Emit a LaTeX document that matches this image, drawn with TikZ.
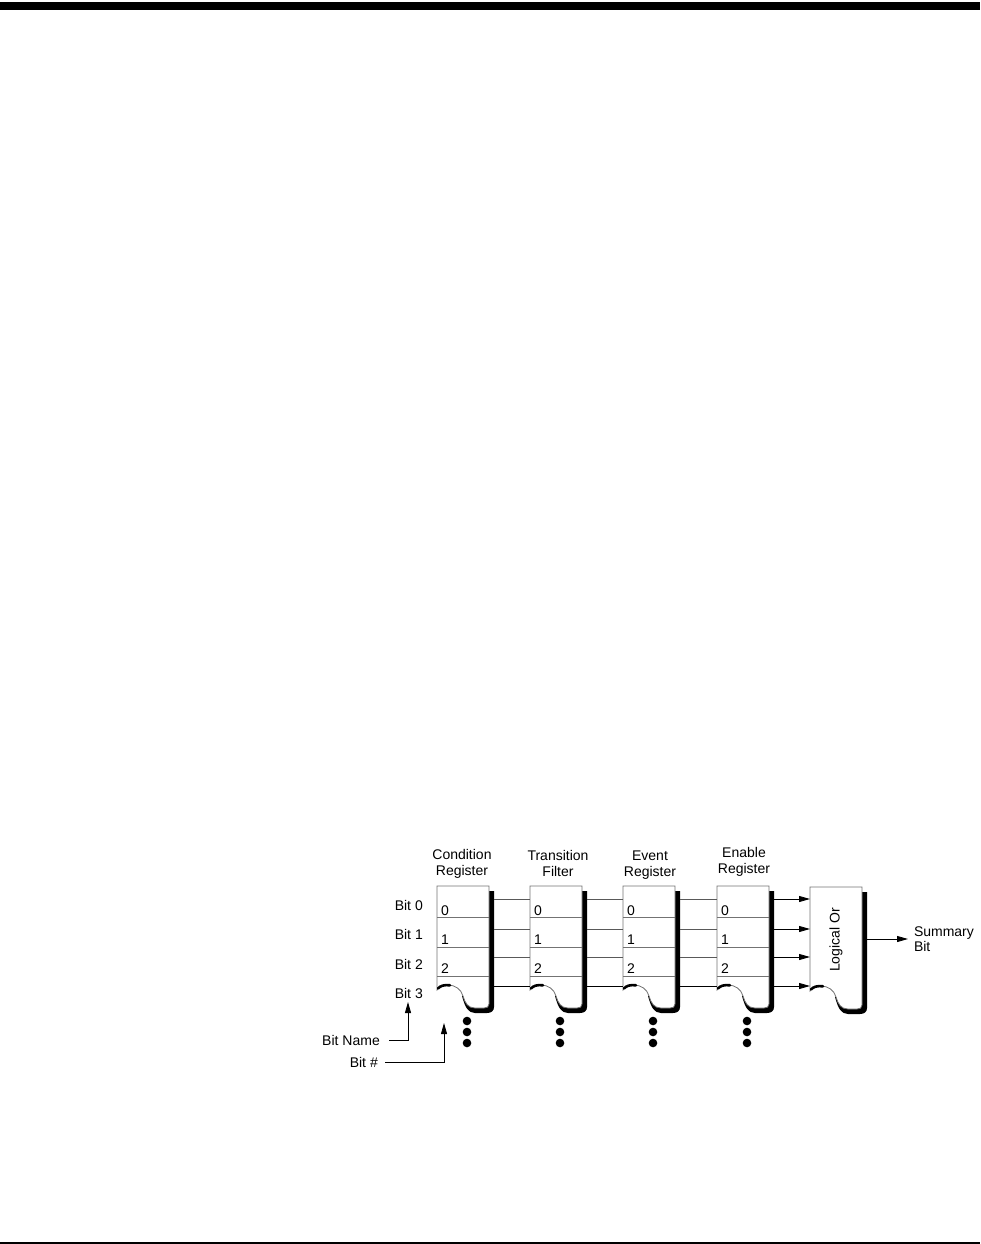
\documentclass[tikz,border=0pt]{standalone}
\usepackage{fontspec}
\setmainfont{Liberation Sans}
\usetikzlibrary{arrows.meta}
\newcommand\regbox[3]{%
  \begin{scope}[shift={(#1,#2)}]
    \fill (45,5) -- (57,5) -- (57,121) .. controls (57,125) and (54,127) .. (50,127) -- (38,127) .. controls (31,127) and (28,121) .. (25,110) -- (45,100) -- cycle;
    \path[outline] (0,0) -- (52,0) -- (52,118) .. controls (52,121) and (50,122) .. (47,122) -- (38,122) .. controls (31,122) and (28,117) .. (26,110) .. controls (24,103) and (18,99) .. (11,99) .. controls (6,99) and (2,101) .. (0,104) -- cycle;
    \draw[line width=2.6pt, line cap=round] (1,102.5) .. controls (3,100) and (7,98.5) .. (13,99.3);
    \node[name=#3, inner sep=0pt, minimum width=52pt, minimum height=104pt, anchor=north west] at (0,0) {};
  \end{scope}}
\newcommand\rowlines[1]{%
  \draw[divider] (#1.west |- 0,917) -- (#1.east |- 0,917);
  \draw[divider] (#1.west |- 0,947) -- (#1.east |- 0,947);
  \draw[divider] (#1.west |- 0,976) -- (#1.east |- 0,976);
  \node[digit] (#1d0) at ([xshift=4pt]#1.west |- 0,915) {0};
  \node[digit] (#1d1) at ([xshift=4pt]#1.west |- 0,944) {1};
  \node[digit] (#1d2) at ([xshift=4pt]#1.west |- 0,973) {2};}
\newcommand\regdots[1]{%
  \node[dot] (#1p1) at ([xshift=30pt]#1.west |- 0,1021) {};
  \node[dot] (#1p2) at ([xshift=30pt]#1.west |- 0,1032) {};
  \node[dot] (#1p3) at ([xshift=30pt]#1.west |- 0,1043) {};}
\begin{document}
\begin{tikzpicture}[x=1pt,y=-1pt,
  txt/.style={inner sep=0pt, font=\fontsize{14}{15.5}\selectfont},
  digit/.style={inner sep=0pt, anchor=base west, font=\fontsize{14}{15.5}\selectfont},
  outline/.style={draw=black!55, line width=0.8pt, fill=white},
  divider/.style={draw=black!55, line width=0.8pt},
  wire/.style={draw=black!65, line width=0.8pt},
  arr/.style={-{Triangle[length=11pt,width=6pt]}, line width=0.8pt},
  dot/.style={circle, fill=black, inner sep=0pt, minimum size=8.6pt}]
\useasboundingbox (0,0) rectangle (980,1244);
\fill (0,2) rectangle (980,10);
\fill (0,1241.5) rectangle (980,1243.5);
% registers
\regbox{437}{886}{cr}
\regbox{530}{886}{tf}
\regbox{623}{886}{er}
\regbox{717}{886}{en}
\regbox{810}{887}{lo}
% wires between registers
\foreach \a/\b in {cr/tf, tf/er, er/en}{
  \draw[wire] ([xshift=5pt]\a.east |- 0,899) -- (\b.west |- 0,899);
  \draw[wire] ([xshift=5pt]\a.east |- 0,929) -- (\b.west |- 0,929);
  \draw[wire] ([xshift=5pt]\a.east |- 0,957) -- (\b.west |- 0,957);
  \draw[wire, draw=black] ([xshift=5pt]\a.east |- 0,986) -- (\b.west |- 0,986);
}
\foreach \y in {899,929,957,986}{
  \draw[arr] ([xshift=5pt]en.east |- 0,\y) -- (lo.west |- 0,\y);
}
\rowlines{cr}
\rowlines{tf}
\rowlines{er}
\rowlines{en}
\regdots{cr}
\regdots{tf}
\regdots{er}
\regdots{en}
% labels
\node[txt, align=center, anchor=base] (lcr) at (462,875) {Condition\\Register};
\node[txt, align=center, anchor=base] (ltf) at (558,876) {Transition\\Filter};
\node[txt, align=center, anchor=base] (ler) at (650,876) {Event\\Register};
\node[txt, align=center, anchor=base] (len) at (744,873) {Enable\\Register};
\node[txt, rotate=90] (lot) at (836,940) {Logical Or};
\node[txt, align=left, anchor=west, outer xsep=6pt] (sb) at (908,939) {Summary\\Bit};
\draw[arr] ([xshift=5pt]lo.east |- sb.west) -- (sb.west);
\node[txt, anchor=base east] (b0) at (423,910) {Bit 0};
\node[txt, anchor=base east] (b1) at (423,939) {Bit 1};
\node[txt, anchor=base east] (b2) at (423,969) {Bit 2};
\node[txt, anchor=base east] (b3) at (423,998) {Bit 3};
\node[txt, anchor=base east] (bn) at (380,1045) {Bit Name};
\node[txt, anchor=base east] (bh) at (378,1067) {Bit \#};
\coordinate (bntip) at (408,1002);
\coordinate (bhtip) at (444,1023);
\draw[arr] ([xshift=9pt]bn.east) -| (bntip);
\draw[arr] ([xshift=7pt]bh.east) -| (bhtip);
\end{tikzpicture}
\end{document}
